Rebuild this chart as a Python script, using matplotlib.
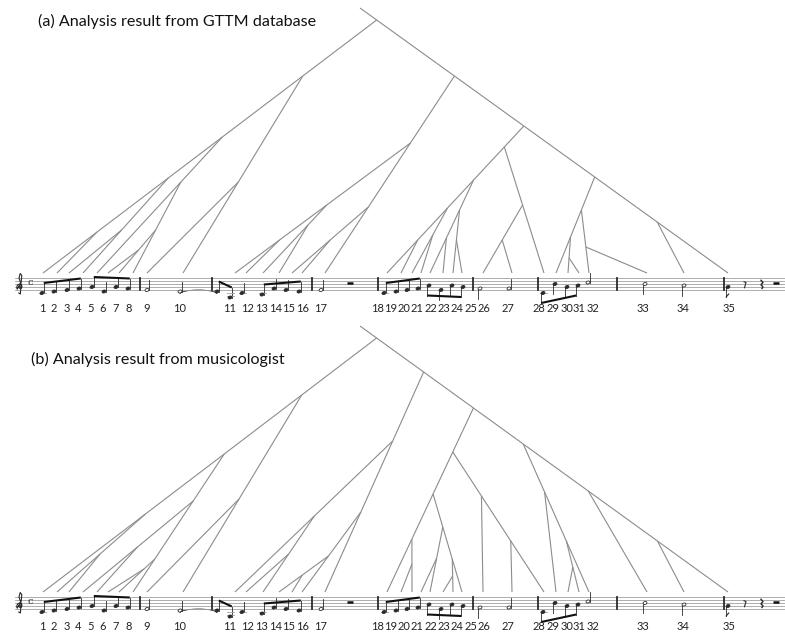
import numpy as np
import matplotlib.pyplot as plt
from matplotlib.patches import Ellipse, Arc

# event numbers, where the tree leaves touch the score, and label positions
events = list(range(1, 36))
leaf_x = [43, 57, 69, 83, 97, 108, 119, 133, 147, 183,
          235, 246, 263, 279, 292, 302, 325,
          387, 401, 412, 421, 430, 443, 453, 462, 483, 512,
          544, 556, 568, 579, 589, 647, 684, 728]
label_x = [42, 54, 67, 78, 91, 103, 116, 129, 147, 180,
           230, 247, 262, 276, 289, 303, 321,
           377, 391, 404, 417, 431, 444, 457, 471, 484, 508,
           539, 553, 567, 579, 593, 643, 683, 729]

# (a) GTTM database: parent event and height (px from top of panel) of the join
parent_a = [35, 1, 4, 1, 1, 7, 8, 5, 10, 1,
            17, 11, 11, 13, 17, 15, 35,
            35, 18, 18, 20, 18, 22, 22, 24, 28, 26,
            18, 35, 29, 30, 29, 32, 35, None]
join_a = [20, 232, 230, 178, 137, 250, 230, 182, 182, 76,
          143, 240, 205, 225, 207, 240, 76,
          126, 240, 208, 235, 180, 238, 210, 240, 205, 240,
          147, 177, 237, 258, 210, 247, 222, 8]

# (b) musicologist
parent_b = [35, 1, 2, 8, 4, 7, 8, 1, 10, 1,
            17, 13, 11, 16, 14, 17, 35,
            35, 20, 18, 22, 25, 24, 25, 18, 28, 28,
            18, 32, 31, 32, 35, 35, 35, None]
join_b = [19, 195, 235, 182, 228, 250, 240, 135, 180, 76,
          122, 235, 197, 237, 256, 193, 53,
          89, 245, 220, 239, 208, 257, 240, 175, 177, 222,
          133, 173, 248, 222, 125, 172, 222, 7]
root_top_x = 360

# melody: staff steps above the bottom line (index 10 is the note tied from event 10)
note_x = [42, 54, 67, 79, 92, 104, 116, 128, 147, 180, 217,
          230, 242, 262, 274, 286, 299, 321,
          384, 396, 407, 418, 429, 441, 452, 463, 480, 509,
          543, 555, 567, 578, 588, 645, 684, 728]
note_step = [-2, -1, 0, 1, 2, -1, 2, 1, 0, -1, -1,
             -5, -2, -3, 1, 0, -1, 0,
             -2, -1, 0, 1, 3, 0, 3, 2, 1, 1,
             -2, 4, 2, 3, 5, 4, 3, 2]
note_kind = ['q'] * 8 + ['h', 'h', 'q'] + ['q'] * 6 + ['h'] + ['q'] * 8 + ['h', 'h'] + ['q'] * 4 + ['h', 'h', 'h', 'q']
stem_dir = [1] * 18 + [1, 1, 1, 1, -1, -1, -1, -1, -1, 1, -1, -1, -1, -1, 1, -1, -1, -1]
beam_groups = [(0, 4), (4, 8), (10, 12), (13, 17), (18, 22), (22, 26), (28, 32)]
barlines = [140, 212, 312, 378, 473, 538, 617, 724]

W, H = 785, 635
fig = plt.figure(figsize=(W / 100, H / 100), dpi=100)
ax = fig.add_axes([0, 0, 1, 1])
ax.set_xlim(0, W)
ax.set_ylim(H, 0)
ax.axis('off')

BASE = 273
STAFF0 = 290
GAP = 1.5
STEM = 10
LINE = '#8c8c8c'
INK = '#2a2a2a'


def draw_tree(parent, join, dy):
    tops = {}

    def top(ev):
        if ev in tops:
            return tops[ev]
        i = ev - 1
        if parent[i] is None:
            tops[ev] = (root_top_x, join[i])
        else:
            px0 = leaf_x[parent[i] - 1]
            tx, ty = top(parent[i])
            y = join[i]
            tops[ev] = (px0 + (BASE - y) / (BASE - ty) * (tx - px0), y)
        return tops[ev]

    for ev in events:
        tx, ty = top(ev)
        ax.plot([leaf_x[ev - 1], tx], [BASE + dy, ty + dy], color=LINE, lw=0.8,
                solid_capstyle='butt')


def draw_clef(cx, y0):
    cy = y0 - 2 * GAP
    ang = np.linspace(0, 2.2 * np.pi, 60)
    r = 0.6 + 2.8 * ang / ang[-1]
    xs = cx + r * np.cos(ang + np.pi)
    ys = cy - r * np.sin(ang + np.pi) * 1.1
    hook_x = [xs[-1], cx + 1.2, cx + 1.8, cx + 0.2, cx - 1.0, cx + 1.0, cx + 0.4, cx - 1.2]
    hook_y = [ys[-1], cy - 5, y0 - 8 * GAP - 2.5, y0 - 8 * GAP - 4.5, y0 - 8 * GAP, cy - 3,
              y0 + 4, y0 + 3]
    ax.plot(np.r_[xs, hook_x], np.r_[ys, hook_y], color=INK, lw=0.8)


def draw_staff(dy):
    y0 = STAFF0 + dy
    for k in range(5):
        ax.plot([15, W], [y0 - k * 2 * GAP] * 2, color='#a0a0a0', lw=0.6)
    for bx in barlines:
        ax.plot([bx, bx], [y0 + 0.4, y0 - 8 * GAP - 0.4], color=INK, lw=1.3)
    draw_clef(20, y0)
    ax.text(30, y0 - 5 * GAP, 'c', fontsize=7, ha='center', va='center',
            family='DejaVu Serif', color=INK)
    tips = []
    for x, s, k, d in zip(note_x, note_step, note_kind, stem_dir):
        y = y0 - s * GAP
        fc = INK if k == 'q' else 'white'
        ax.add_patch(Ellipse((x, y), 4.0, 2.9, angle=-20, fc=fc, ec=INK, lw=0.6, zorder=3))
        sx = x + 1.8 if d > 0 else x - 1.8
        ax.plot([sx, sx], [y, y - d * STEM], color=INK, lw=0.6)
        tips.append((sx, y - d * STEM))
        if s <= -2:
            for ls in range(-2, s - 1, -2):
                ax.plot([x - 3.5, x + 3.5], [y0 - ls * GAP] * 2, color='#a0a0a0', lw=0.6)
    for a, b in beam_groups:
        ax.plot([tips[a][0], tips[b - 1][0]], [tips[a][1], tips[b - 1][1]],
                color='#111111', lw=1.5, solid_capstyle='butt')
    # flag on the last eighth
    fx, fy = tips[-1]
    ax.plot([fx, fx + 2.5], [fy, fy - 3], color=INK, lw=0.8)
    # tie from event 10 to the next bar
    ax.add_patch(Arc((198.5, y0 - note_step[9] * GAP + 2.5), 37, 8, theta1=180, theta2=360,
                     color=INK, lw=0.6))
    # rests
    for rx in (350, 776):
        ax.plot([rx - 3, rx + 3], [y0 - 4.6 * GAP] * 2, color='#111111', lw=1.8,
                solid_capstyle='butt')
    ax.plot([744, 746, 744.5], [y0 - 5.5 * GAP, y0 - 5 * GAP, y0 - 1.5 * GAP], color=INK, lw=0.8)
    ax.plot([761, 763, 761, 763, 762], [y0 - 6.5 * GAP, y0 - 5 * GAP, y0 - 3.5 * GAP,
                                        y0 - 2 * GAP, y0 - 1 * GAP], color=INK, lw=1.0)


def draw_labels(y):
    for ev, x in zip(events, label_x):
        ax.text(x, y, str(ev), fontsize=8, ha='center', va='center',
                family='Lato', color='#222222')


for dy, parent, join, ly in [(0, parent_a, join_a, 308), (319, parent_b, join_b, 627)]:
    draw_tree(parent, join, dy)
    draw_staff(dy)
    draw_labels(ly)

ax.text(38, 21, '(a) Analysis result from GTTM database', fontsize=11.6,
        family='Lato', va='center', ha='left', color='#111111')
ax.text(31, 359, '(b) Analysis result from musicologist', fontsize=11.6,
        family='Lato', va='center', ha='left', color='#111111')

fig.savefig('out.png', dpi=100)
